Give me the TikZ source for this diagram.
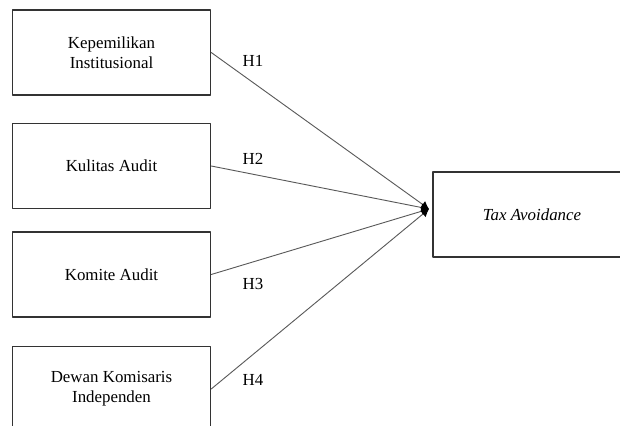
\documentclass[tikz,border=0pt]{standalone}
\usepackage{fontspec}
\setmainfont{Liberation Serif}
\usetikzlibrary{arrows.meta,positioning}

\begin{document}
\begin{tikzpicture}[x=0.025cm,y=-0.025cm,line cap=round,line join=round,
  var/.style={draw=black!80,line width=1pt,minimum width=4.95cm,minimum height=2.12cm,
    align=center,font=\fontsize{12}{14.5}\selectfont},
  link/.style={draw=black!65,line width=0.65pt,-{Latex[length=5.5pt,width=6pt,fill=black,color=black]}},
  hyp/.style={font=\fontsize{12}{14}\selectfont}]
  \useasboundingbox (0,0) rectangle (620,426);
  \clip (0,0) rectangle (620,426);
  % variables
  \node[var] (kep) at (111.5,52.5) {Kepemilikan\\Institusional};
  \node[var] (kua) at (111.5,166) {Kulitas Audit};
  \node[var] (kom) at (111.5,274.5) {Komite Audit};
  \node[var] (dew) at (111.5,389) {Dewan Komisaris\\Independen};
  \node[var,font=\fontsize{12}{14}\selectfont\itshape] (tax) at (532,214.5) {Tax Avoidance};
  \coordinate (hub) at (429,209);
  % hypotheses
  \draw[link] (kep.east) -- (hub);
  \draw[link] (kua.east) -- (hub);
  \draw[link] (kom.east) -- (hub);
  \draw[link] (dew.east) -- (hub);
  \node[hyp] (h1) at (253,61) {H1};
  \node[hyp] (h2) at (253,159) {H2};
  \node[hyp] (h3) at (253,284) {H3};
  \node[hyp] (h4) at (253,380) {H4};
\end{tikzpicture}
\end{document}
